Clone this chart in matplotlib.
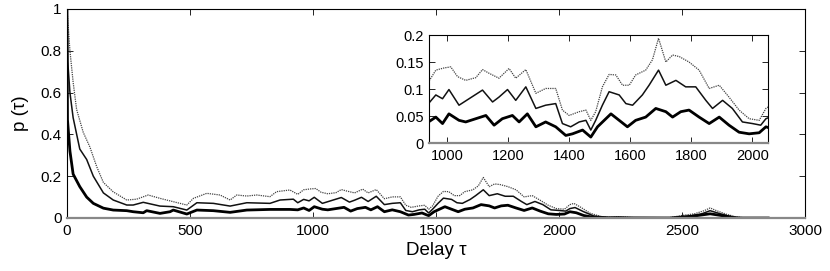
import numpy as np
import matplotlib.pyplot as plt

plt.rcParams['font.family'] = ['Liberation Sans', 'DejaVu Sans']

# values, (delay, p) pairs for each of the three curves
# upper curve (grey, dotted)
tau_top = [0, 3, 12, 25, 39, 66, 93, 121, 148, 188, 243, 283, 330, 378, 432, 487,
           514, 568, 622, 663, 690, 731, 771, 825, 852, 906,
           938, 962, 989, 1011, 1033, 1060, 1093, 1115, 1137, 1169, 1202, 1224, 1257,
           1290, 1322, 1355, 1377, 1399, 1432, 1454, 1470, 1486, 1508, 1530, 1552,
           1574, 1596, 1617, 1650, 1672, 1692, 1716, 1738, 1760, 1792, 1825, 1858,
           1891, 1923, 1956, 1989, 2022, 2044,
           2060, 2090, 2126, 2167, 2200, 2240, 2280, 2320, 2450, 2500, 2550, 2590,
           2614, 2640, 2680, 2720, 2760, 2850]
p_top = [1.0, 0.95, 0.80, 0.65, 0.52, 0.41, 0.34, 0.245, 0.17, 0.125, 0.086, 0.09, 0.11, 0.094, 0.078, 0.062,
         0.094, 0.118, 0.11, 0.086, 0.11, 0.105, 0.11, 0.102, 0.126, 0.134,
         0.113, 0.135, 0.139, 0.141, 0.123, 0.116, 0.121, 0.136, 0.129, 0.12, 0.138, 0.12, 0.136,
         0.092, 0.101, 0.101, 0.061, 0.051, 0.058, 0.061, 0.042, 0.058, 0.104, 0.127, 0.126,
         0.107, 0.107, 0.126, 0.135, 0.154, 0.194, 0.150, 0.163, 0.160, 0.150, 0.135, 0.101,
         0.107, 0.085, 0.061, 0.045, 0.042, 0.064,
         0.07, 0.05, 0.023, 0.008, 0.003, 0.006, 0.004, 0.0, 0.002, 0.012, 0.02, 0.035,
         0.048, 0.035, 0.018, 0.005, 0.0, 0.0]

# middle curve
tau_mid = [0, 3, 12, 25, 52, 80, 107, 148, 188, 243, 269, 310, 378, 432, 487,
           528, 595, 663, 731, 825, 866, 920,
           938, 962, 984, 1005, 1038, 1071, 1115, 1148, 1169, 1197, 1224, 1257, 1290,
           1322, 1355, 1377, 1404, 1432, 1454, 1470, 1486, 1508, 1530, 1563, 1585,
           1607, 1639, 1661, 1692, 1716, 1749, 1781, 1814, 1847, 1869, 1902, 1934,
           1967, 2000, 2027, 2044,
           2065, 2100, 2140, 2200, 2240, 2300, 2450, 2520, 2580, 2614, 2650, 2700, 2750, 2850]
p_mid = [1.0, 0.75, 0.60, 0.48, 0.33, 0.28, 0.20, 0.12, 0.086, 0.062, 0.062, 0.075, 0.057, 0.054, 0.038,
         0.073, 0.07, 0.057, 0.073, 0.07, 0.086, 0.09,
         0.073, 0.089, 0.082, 0.099, 0.070, 0.082, 0.098, 0.076, 0.085, 0.099, 0.079, 0.104, 0.064,
         0.070, 0.073, 0.036, 0.030, 0.039, 0.042, 0.024, 0.042, 0.070, 0.095, 0.089, 0.073,
         0.070, 0.089, 0.107, 0.135, 0.107, 0.116, 0.104, 0.104, 0.079, 0.064, 0.079, 0.064,
         0.039, 0.036, 0.033, 0.045,
         0.05, 0.03, 0.01, 0.002, 0.004, 0.0, 0.0, 0.008, 0.02, 0.035, 0.022, 0.006, 0.0, 0.0]

# lower curve (thick)
tau_low = [0, 2, 12, 25, 52, 80, 107, 148, 188, 243, 269, 310, 324, 378, 419, 432, 487,
           528, 595, 663, 731, 825, 906,
           938, 962, 984, 1005, 1038, 1060, 1093, 1126, 1153, 1180, 1213, 1235, 1262,
           1290, 1322, 1355, 1388, 1410, 1443, 1470, 1492, 1514, 1536, 1563, 1590,
           1617, 1650, 1683, 1716, 1738, 1765, 1792, 1825, 1858, 1891, 1923, 1956,
           1989, 2022, 2044,
           2070, 2100, 2140, 2200, 2450, 2540, 2614, 2680, 2720, 2850]
p_low = [1.0, 0.47, 0.32, 0.21, 0.15, 0.10, 0.07, 0.047, 0.038, 0.035, 0.03, 0.025, 0.035, 0.022, 0.03, 0.038, 0.019,
         0.038, 0.035, 0.027, 0.038, 0.041, 0.041,
         0.039, 0.048, 0.036, 0.054, 0.042, 0.039, 0.045, 0.051, 0.033, 0.045, 0.051, 0.039, 0.054,
         0.030, 0.039, 0.030, 0.014, 0.017, 0.024, 0.011, 0.030, 0.042, 0.054, 0.042, 0.030,
         0.042, 0.048, 0.064, 0.058, 0.048, 0.058, 0.061, 0.048, 0.036, 0.048, 0.033, 0.020,
         0.017, 0.019, 0.030,
         0.025, 0.012, 0.003, 0.001, 0.0, 0.008, 0.02, 0.008, 0.0, 0.0]

curves = [
    (tau_top, p_top, dict(color='#444444', lw=0.9, ls=(0, (1, 0.8)))),
    (tau_mid, p_mid, dict(color='#111111', lw=1.1)),
    (tau_low, p_low, dict(color='black', lw=2.0)),
]


def style_axes(ax, fs):
    ax.tick_params(direction='in', top=True, right=True, length=4, width=0.6,
                   labelsize=fs, pad=4)
    for s in ['top', 'right', 'left']:
        ax.spines[s].set_linewidth(0.8)
    ax.spines['bottom'].set_color('#888888')
    ax.spines['bottom'].set_linewidth(1.6)


fig = plt.figure(figsize=(8.3, 2.71), dpi=100)

ax = fig.add_axes([0.0807, 0.1956, 0.8893, 0.7712])
for t, p, kw in curves:
    ax.plot(t, p, **kw)
ax.set_xlim(0, 3000)
ax.set_ylim(0, 1)
ax.set_xticks(np.arange(0, 3001, 500))
ax.set_yticks([0, 0.2, 0.4, 0.6, 0.8, 1])
ax.set_yticklabels(['0', '0.2', '0.4', '0.6', '0.8', '1'])
style_axes(ax, 11)
ax.set_xlabel('Delay τ', fontsize=13.5, labelpad=3)
ax.set_ylabel('p (τ)', fontsize=13.5, labelpad=8)

# inset with the zoomed-in part
axin = fig.add_axes([0.517, 0.4723, 0.408, 0.3985])
for t, p, kw in curves:
    axin.plot(t, p, **kw)
axin.set_xlim(940, 2050)
axin.set_ylim(0, 0.2)
axin.set_xticks(np.arange(1000, 2001, 200))
axin.set_yticks([0, 0.05, 0.1, 0.15, 0.2])
axin.set_yticklabels(['0', '0.05', '0.1', '0.15', '0.2'])
style_axes(axin, 10.5)

fig.savefig('out.png', dpi=100)
